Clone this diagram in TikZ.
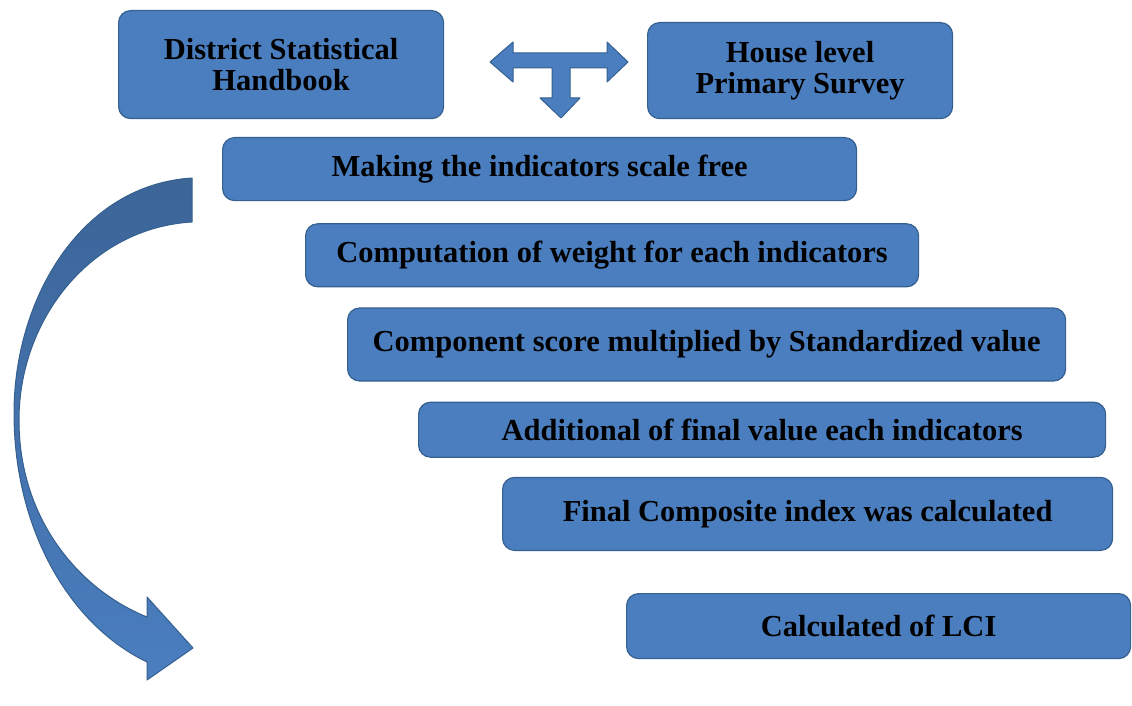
\documentclass[tikz,border=0pt]{standalone}
\usepackage{fontspec}
\setmainfont{Liberation Serif}
\usetikzlibrary{positioning}
\definecolor{boxblue}{HTML}{4A7EBF}
\definecolor{boxline}{HTML}{35608F}
\definecolor{arrowtop}{HTML}{3C6598}
\tikzset{
    % Define style for the step boxes
    stepbox/.style={
           rectangle,
           draw=boxline,
           fill=boxblue,
           line width=1.2pt,
           rounded corners=12pt,
           inner sep=0pt,
           font=\fontsize{30.5}{31}\selectfont\bfseries,
           align=center},
    % Define style for the block arrows
    blockarrow/.style={
           draw=boxline,
           fill=boxblue,
           line width=1pt,
           line join=round}
}
\begin{document}
\begin{tikzpicture}[x=1pt, y=-1pt, node distance=0pt]
	\useasboundingbox (0,0) rectangle (1132,706);

	% Data sources
	\node[stepbox, minimum width=325pt, minimum height=108pt, anchor=north west](handbook) at (118,10){District Statistical\\Handbook};
	\node[stepbox, minimum width=305pt, minimum height=96pt, anchor=north west](survey) at (647,22){House level\\Primary Survey};

	% Steps
	\node[stepbox, minimum width=634pt, minimum height=63pt, anchor=north west](scalefree) at (222,137){Making the indicators scale free};
	\node[stepbox, minimum width=613pt, minimum height=63pt, below=22pt of scalefree.south west, anchor=north west, xshift=83pt](weight){Computation of weight for each indicators};
	\node[stepbox, minimum width=718pt, minimum height=73pt, below=20pt of weight.south west, anchor=north west, xshift=42pt](component){Component score multiplied by Standardized value};
	\node[stepbox, minimum width=687pt, minimum height=55pt, below=20pt of component.south west, anchor=north west, xshift=71pt](addition){Additional of final value each indicators};
	\node[stepbox, minimum width=610pt, minimum height=73pt, below=19pt of addition.south west, anchor=north west, xshift=84pt](composite){Final Composite index was calculated};
	\node[stepbox, minimum width=504pt, minimum height=65pt, below=42pt of composite.south west, anchor=north west, xshift=124pt](lci){Calculated of LCI};

	% T-shaped arrow between the sources
	\draw[blockarrow] (490,62) -- (513,42) -- (513,53) -- (607,53) -- (607,42) -- (628,62)
	      -- (607,82) -- (607,68) -- (570,68) -- (570,98) -- (580,98) -- (561,118)
	      -- (540,98) -- (552,98) -- (552,68) -- (513,68) -- (513,82) -- cycle;

	% Curved arrow along the steps
	\shade[top color=arrowtop, bottom color=boxblue, draw=boxline, line width=1pt, line join=round]
	      (192,178) .. controls (80,185) and (14,300) .. (14,413)
	      .. controls (14,530) and (70,625) .. (147,662)
	      -- (147,680) -- (193,648) -- (147,597) -- (147,617)
	      .. controls (80,590) and (19,520) .. (19,420)
	      .. controls (19,320) and (90,228) .. (192,222) -- cycle;
\end{tikzpicture}
\end{document}
